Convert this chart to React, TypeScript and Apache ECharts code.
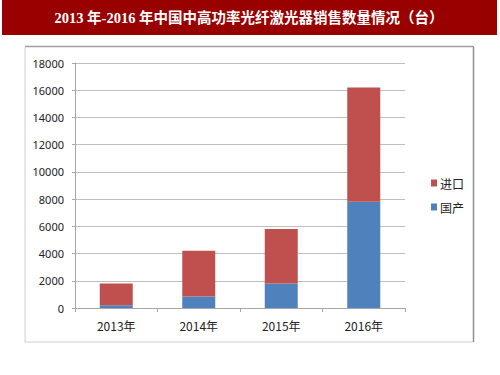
import React, { useEffect, useRef } from "react";
import * as echarts from "echarts";

const categories = ["2013年", "2014年", "2015年", "2016年"];
const domestic = [200, 850, 1800, 7800];
const imported = [1600, 3350, 4000, 8400];
const seriesNames = ["国产", "进口"];
const titleText = "2013 年-2016 年中国中高功率光纤激光器销售数量情况（台）";

export default function App() {
  const ref = useRef<HTMLDivElement>(null);
  useEffect(() => {
    if (!ref.current) return;
    const chart = echarts.init(ref.current, undefined, { renderer: "svg" });
    chart.setOption({
      animation: false,
      backgroundColor: "#ffffff",
      graphic: [
        { type: "rect", shape: { x: 2, y: 0, width: 495, height: 35 }, style: { fill: "#990000" }, z: 0 },
        {
          type: "text",
          x: 249,
          y: 18,
          style: {
            text: titleText,
            fill: "#ffffff",
            font: "bold 14.5px 'Liberation Serif', 'Noto Sans CJK SC'",
            align: "center",
            verticalAlign: "middle",
          },
          z: 1,
        },
        { type: "rect", shape: { x: 25, y: 46.5, width: 448.5, height: 295.5 }, style: { fill: "none", stroke: "#d0d0d0", lineWidth: 1 }, z: 0 },
        { type: "line", shape: { x1: 25, y1: 46.5, x2: 473.5, y2: 46.5 }, style: { stroke: "#a0a0a0", lineWidth: 1.5 }, z: 0 },
        { type: "line", shape: { x1: 473.5, y1: 46.5, x2: 473.5, y2: 342 }, style: { stroke: "#909090", lineWidth: 1.5 }, z: 0 },
      ],
      grid: { left: 75, right: 95, top: 63, bottom: 67, containLabel: false },
      legend: {
        orient: "vertical",
        left: 426,
        top: 172,
        data: ["进口", "国产"],
        itemWidth: 6,
        itemHeight: 7,
        itemGap: 12,
        icon: "rect",
        textStyle: { fontSize: 12, color: "#222", fontFamily: "'Noto Sans CJK SC'", padding: [0, 0, 0, -2] },
      },
      xAxis: {
        type: "category",
        data: categories,
        boundaryGap: true,
        axisLine: { show: true, lineStyle: { color: "#a6a6a6" } },
        axisTick: { show: true, length: 4, lineStyle: { color: "#a6a6a6" } },
        axisLabel: { fontSize: 12, color: "#222", margin: 11, fontFamily: "'Noto Sans CJK SC'" },
      },
      yAxis: {
        type: "value",
        min: 0,
        max: 18000,
        interval: 2000,
        axisLine: { show: true, lineStyle: { color: "#a6a6a6" } },
        axisTick: { show: true, length: 3, lineStyle: { color: "#a6a6a6" } },
        axisLabel: {
          fontSize: 11,
          color: "#222",
          margin: 11,
          fontFamily: "'Noto Sans', sans-serif",
          formatter: (v: number) => String(v),
        },
        splitLine: { show: true, lineStyle: { color: "#bfbfbf" } },
      },
      series: [
        {
          name: seriesNames[0],
          type: "bar",
          stack: "total",
          data: domestic,
          barWidth: 33,
          itemStyle: { color: "#4f81bd" },
        },
        {
          name: seriesNames[1],
          type: "bar",
          stack: "total",
          data: imported,
          barWidth: 33,
          itemStyle: { color: "#c0504d" },
        },
      ],
    });
    return () => chart.dispose();
  }, []);
  return <div ref={ref} style={{ position: "absolute", left: 0, top: 0, width: 500, height: 375 }} />;
}
